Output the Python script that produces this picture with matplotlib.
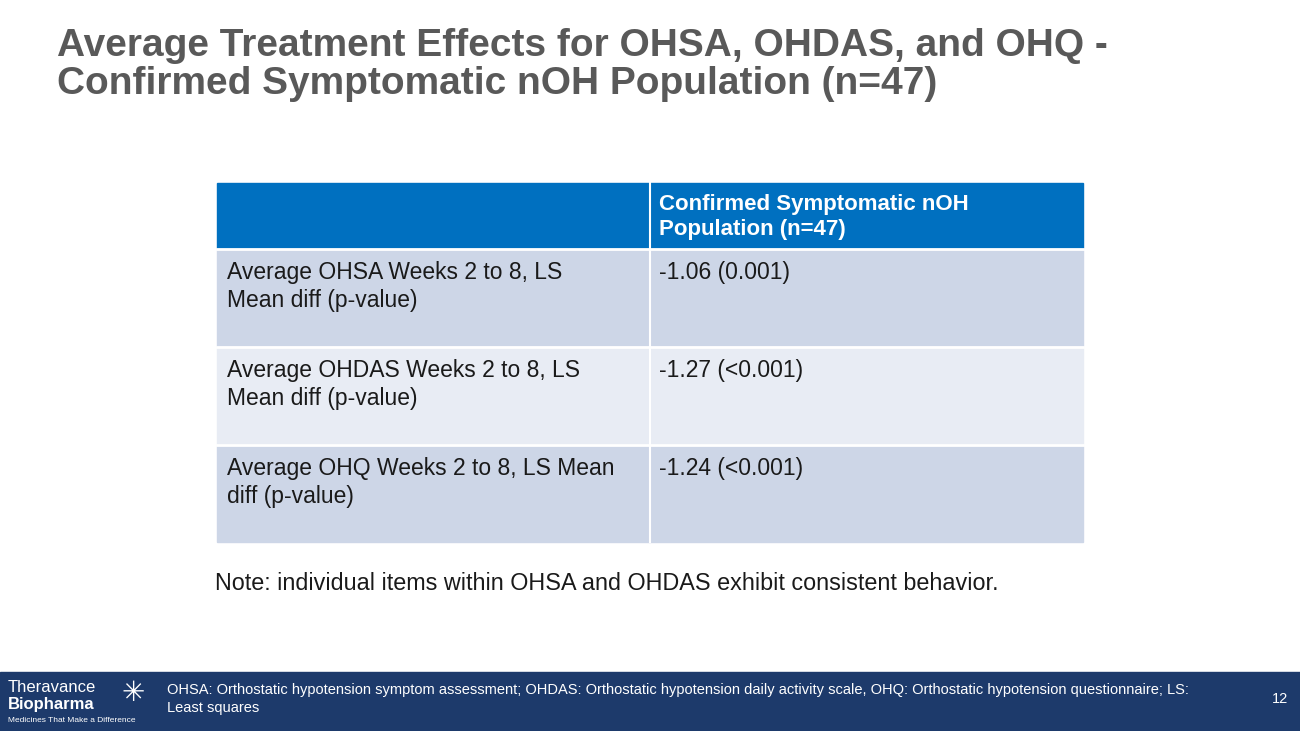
import matplotlib.pyplot as plt
from matplotlib.patches import Rectangle

plt.rcParams['font.family'] = ['Liberation Sans', 'DejaVu Sans']

title_lines = ["Average Treatment Effects for OHSA, OHDAS, and OHQ -",
               "Confirmed Symptomatic nOH Population (n=47)"]
header = "Confirmed Symptomatic nOH\nPopulation (n=47)"
row_labels = ["Average OHSA Weeks 2 to 8, LS\nMean diff (p-value)",
              "Average OHDAS Weeks 2 to 8, LS\nMean diff (p-value)",
              "Average OHQ Weeks 2 to 8, LS Mean\ndiff (p-value)"]
row_values = ["-1.06 (0.001)", "-1.27 (<0.001)", "-1.24 (<0.001)"]
note = "Note: individual items within OHSA and OHDAS exhibit consistent behavior."
footnote = ("OHSA: Orthostatic hypotension symptom assessment; OHDAS: Orthostatic hypotension daily activity scale, OHQ: Orthostatic hypotension questionnaire; LS:\n"
            "Least squares")
page = "12"

fig = plt.figure(figsize=(13, 7.31), dpi=100)
ax = fig.add_axes([0, 0, 1, 1])
ax.set_xlim(0, 1300)
ax.set_ylim(731, 0)
ax.axis('off')

for i, line in enumerate(title_lines):
    ax.text(57, 46 + i * 38, line, fontsize=28, fontweight='bold', color='#595959', va='center')

# table
x0, xm, x1 = 217, 650, 1083
ys = [183, 249, 347, 445, 542]
ax.add_patch(Rectangle((x0, ys[0]), x1 - x0, ys[1] - ys[0], color='#0070C0'))
ax.plot([xm, xm], [ys[0], ys[1]], color='white', lw=1.5)
ax.text(xm + 9, ys[0] + 34, header, fontsize=16, fontweight='bold', color='white',
        va='center', linespacing=1.3)
fills = ['#CDD6E7', '#E8ECF4', '#CDD6E7']
for i, (lab, val) in enumerate(zip(row_labels, row_values)):
    top, bot = ys[i + 1], ys[i + 2]
    ax.add_patch(Rectangle((x0, top), x1 - x0, bot - top, color=fills[i]))
    ax.plot([x0, x1], [top, top], color='white', lw=2)
    ax.plot([xm, xm], [top, bot], color='white', lw=1.5)
    ax.text(x0 + 10, top + 12, lab, fontsize=16.5, color='#1a1a1a', va='top', linespacing=1.3)
    ax.text(xm + 9, top + 12, val, fontsize=16.5, color='#1a1a1a', va='top')

ax.text(215, 584, note, fontsize=16.8, color='#1a1a1a', va='center')

# footer
ax.add_patch(Rectangle((0, 672), 1300, 59, color='#1D3A6B'))
ax.text(8, 687, "Theravance", fontsize=12, color='white', va='center')
ax.text(8, 704, "Biopharma", fontsize=12, fontweight='bold', color='white', va='center')
ax.text(8, 721, "Medicines That Make a Difference", fontsize=6, color='white', va='center')
ax.text(133, 694, "\u2733", fontsize=20, color='white', va='center', ha='center')
ax.text(167, 699, footnote, fontsize=10.5, color='white', va='center', linespacing=1.3)
ax.text(1272, 699, page, fontsize=10.5, color='white', va='center')

fig.savefig('out.png', dpi=100)
